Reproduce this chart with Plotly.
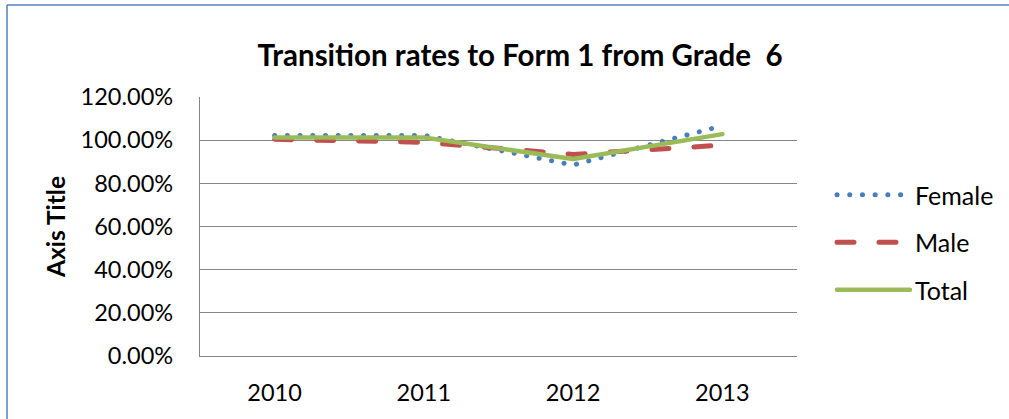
import plotly.graph_objects as go

# Transition rates to Form 1 (share of Grade 6 cohort), by sex
years = ["2010", "2011", "2012", "2013"]
female = [1.022, 1.022, 0.885, 1.067]
male = [1.004, 0.990, 0.934, 0.977]
total = [1.012, 1.012, 0.913, 1.028]

y_ticks = [0.0, 0.2, 0.4, 0.6, 0.8, 1.0, 1.2]

FONT = "Lato"
W, H = 1009, 419
L, R, T, B = 200, 212, 97, 63
pw, ph = W - L - R, H - T - B


def px_x(p):
    return (p - L) / pw


def px_y(p):
    return (H - B - p) / ph


fig = go.Figure()
fig.add_trace(go.Scatter(
    x=years, y=female, name="Female", mode="lines", legendgroup="f",
    line=dict(color="#4A7EBB", width=5, dash="0.1px,12.6px"),
))
fig.add_trace(go.Scatter(
    x=years, y=male, name="Male", mode="lines", legendgroup="m",
    line=dict(color="#C0504D", width=5, dash="17px,25px"),
))
fig.add_trace(go.Scatter(
    x=years, y=total, name="Total", mode="lines", legendgroup="t",
    line=dict(color="#9BBB59", width=4.5),
))

border = "#4F81BD"
fig.update_layout(
    width=W, height=H,
    margin=dict(l=L, r=R, t=T, b=B, pad=0, autoexpand=False),
    paper_bgcolor="white", plot_bgcolor="white",
    font=dict(family=FONT, size=23.5, color="black"),
    title=dict(
        text="<b>Transition rates to Form 1 from Grade  6</b>",
        x=px_x(520), xref="paper", xanchor="center",
        y=1 - 56 / H, yref="container", yanchor="middle",
        font=dict(family=FONT, size=29.5, color="black"),
    ),
    showlegend=True,
    legend=dict(
        x=px_x(832), xanchor="left", y=px_y(172), yanchor="top",
        font=dict(family=FONT, size=25), itemwidth=73,
        tracegroupgap=12, bgcolor="rgba(0,0,0,0)",
    ),
    xaxis=dict(
        type="category", range=[-0.5, 3.5],
        showgrid=False, showline=True, linecolor="#868686", linewidth=1.3,
        ticks="", ticklabelstandoff=16, tickfont=dict(size=23.5),
        zeroline=False,
    ),
    yaxis=dict(
        range=[0, 1.2], tickvals=y_ticks, tickformat=".2%",
        showgrid=True, gridcolor="#868686", gridwidth=1.3,
        showline=True, linecolor="#868686", linewidth=1.3,
        ticks="", ticklabelstandoff=21, tickfont=dict(size=23.5),
        zeroline=False,
        title=dict(text="<b>Axis Title</b>", standoff=8,
                   font=dict(family=FONT, size=24.5)),
    ),
    shapes=[
        dict(type="line", xref="paper", yref="paper",
             x0=px_x(7), x1=px_x(W + 5), y0=px_y(5), y1=px_y(5),
             line=dict(color=border, width=1.5)),
        dict(type="line", xref="paper", yref="paper",
             x0=px_x(7), x1=px_x(7), y0=px_y(5), y1=px_y(H + 5),
             line=dict(color=border, width=1.5)),
    ],
)

# round line caps so dotted/dashed series get rounded ends
round_caps = """
var s = document.createElement('style');
s.textContent = '.scatterlayer .js-line, .legendlines path {stroke-linecap: round !important; stroke-linejoin: round;}';
document.head.appendChild(s);
"""

fig.write_html("out.html", post_script=round_caps)
